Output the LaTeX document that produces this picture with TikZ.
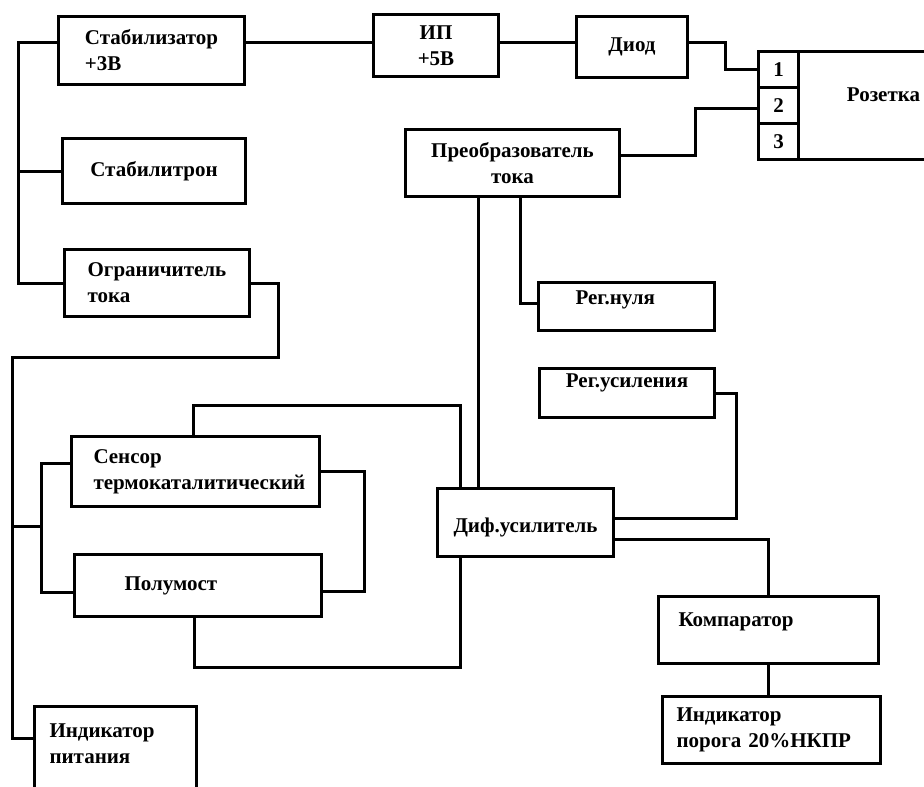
\documentclass[tikz,border=0pt]{standalone}
\usepackage{fontspec}
\setmainfont{Liberation Serif}
\usetikzlibrary{positioning}
\tikzstyle{blk}=[draw,rectangle,line width=3pt,anchor=north west,inner sep=0pt,align=center,font=\fontsize{21}{26}\selectfont\bfseries]
\tikzstyle{pin}=[blk,minimum width=40pt,minimum height=36pt]
\tikzstyle{wire}=[line width=3pt]

\begin{document}
\begin{tikzpicture}[x=1pt,y=-1pt]
    \useasboundingbox (0,0) rectangle (924,787);
    \clip (0,0) rectangle (924,787);

    % blocks
    \node[blk,minimum width=186pt,minimum height=68pt,align=left] (stab)   at (57,15)   {Стабилизатор\\+3В};
    \node[blk,minimum width=125pt,minimum height=62pt]             (ip)     at (372,13)  {ИП\\+5В};
    \node[blk,minimum width=111pt,minimum height=61pt]             (diod)   at (575,15)  {Диод};
    \node[blk,minimum width=183pt,minimum height=65pt]             (stabtr) at (61,137)  {Стабилитрон};
    \node[blk,minimum width=185pt,minimum height=67pt,align=left]  (ogr)    at (63,248)  {Ограничитель\\тока};
    \node[blk,minimum width=214pt,minimum height=67pt]             (preob)  at (404,128) {Преобразователь\\тока};
    \node[blk,minimum width=176pt,minimum height=48pt,align=left,text width=102pt,text depth=17pt] (regnul) at (537,281) {Рег.нуля};
    \node[blk,minimum width=175pt,minimum height=49pt,text depth=25pt] (regus) at (538,367) {Рег.усиления};
    \node[blk,minimum width=176pt,minimum height=68pt,text height=24pt] (dif) at (436,487) {Диф.усилитель};
    \node[blk,minimum width=220pt,minimum height=67pt,align=left,text width=180pt,text depth=21pt] (komp) at (657,595) {Компаратор};
    \node[blk,minimum width=218pt,minimum height=67pt,align=left,text width=190pt] (indpor) at (661,695) {Индикатор\\порога 20\%НКПР};
    \node[blk,minimum width=248pt,minimum height=70pt,align=left,text width=204pt] (sensor) at (70,435) {Сенсор\\термокаталитический};
    \node[blk,minimum width=247pt,minimum height=62pt,align=left,text width=147pt] (polum) at (73,553) {Полумост};
    \node[blk,minimum width=162pt,minimum height=100pt,align=left,text width=132pt] (indpit) at (33,705) {Индикатор\\питания\\\mbox{}};

    % socket
    \node[pin] (pin1) at (757,50)  {1};
    \node[pin] (pin2) at (757,86)  {2};
    \node[pin] (pin3) at (757,122) {3};
    \node[blk,minimum width=170pt,minimum height=108pt,text depth=21pt] (rozetka) at (797,50) {Розетка};

    % bend points
    \coordinate (busL) at (18,0);
    \coordinate (busP) at (12,357);
    \coordinate (busS) at (41,526);
    \coordinate (topL) at (460,405);
    \coordinate (botL) at (460,667);

    % power chain
    \draw[wire] ([yshift=8pt]stab.east) coordinate (s1) -- (s1 -| ip.west);
    \draw[wire] (ip.east |- s1) -- (s1 -| diod.west);
    \draw[wire] (diod.east |- s1) -- ++(36,0) |- (pin1.west);
    \draw[wire] ([yshift=8pt]preob.east) -- ++(74,0) |- ([yshift=-3pt]pin2.west);
    \draw[wire] ([yshift=8pt]stab.west) -| (busL |- ogr.west) -- (ogr.west);
    \draw[wire] (stabtr.west) -- (busL |- stabtr.west);

    % measuring bridge
    \draw[wire] (ogr.east) -- ++(27,0) |- (busP) |- ([yshift=18pt]indpit.west);
    \draw[wire] (busP |- busS) -- (busS);
    \draw[wire] ([yshift=8pt]sensor.west) -| (busS) |- ([yshift=-7pt]polum.west);
    \draw[wire] (sensor.east) -- ++(43,0) |- ([yshift=-6pt]polum.east);
    \draw[wire] ([xshift=-2pt]sensor.north) |- (topL) -- (topL |- dif.north);
    \draw[wire] (topL |- dif.south) -- (botL) -| ([xshift=-4pt]polum.south);

    % amplifier
    \draw[wire] ([xshift=-34pt]preob.south) -- ([xshift=-34pt]preob.south |- dif.north);
    \draw[wire] ([xshift=8pt]preob.south) |- ([yshift=3pt]regnul.west);
    \draw[wire] (regus.east) -- ++(20,0) |- ([yshift=4pt]dif.east);
    \draw[wire] ([yshift=-17pt]dif.east) -| (komp.north);
    \draw[wire] (komp.south) -- (komp.south |- indpor.north);

\end{tikzpicture}
\end{document}
